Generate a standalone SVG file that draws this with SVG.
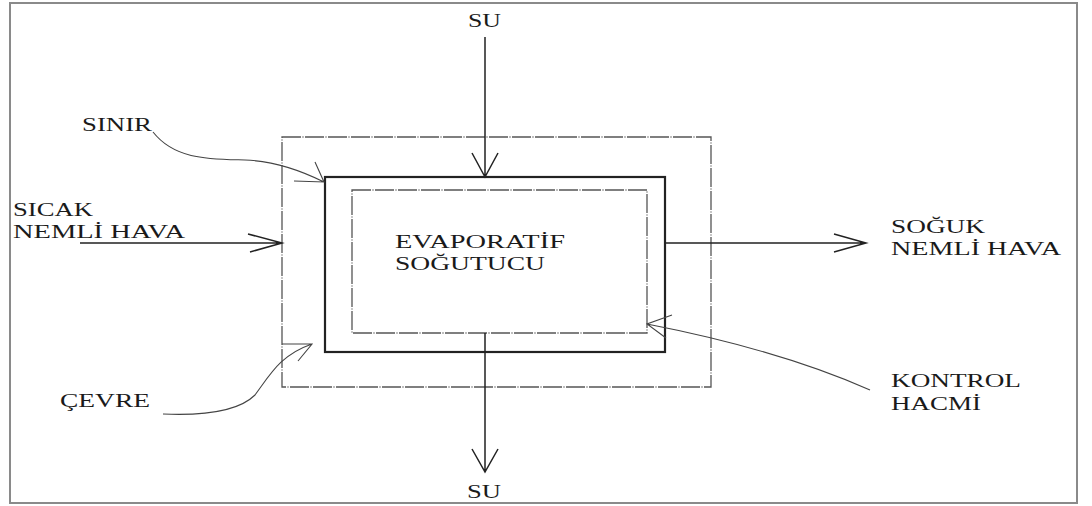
<svg xmlns="http://www.w3.org/2000/svg" width="1092" height="506" viewBox="0 0 1092 506">
<style>
text{font-family:"Liberation Serif","Times New Roman",serif;font-size:19px;fill:#1a1a1a}
.frame{fill:none;stroke:#8a8a8a;stroke-width:2}
.dash{fill:none;stroke:#555;stroke-width:1.3;stroke-dasharray:19 1.5 1 1.5}
.solid{fill:none;stroke:#222;stroke-width:2.2}
.flow{fill:none;stroke:#222;stroke-width:1.5}
.lead{fill:none;stroke:#444;stroke-width:1.1}
</style>
<rect class="frame" x="10" y="3" width="1067" height="500"/>
<g id="cevre-sinir">
<rect class="dash" x="282" y="137" width="429" height="250"/>
</g>
<g id="evaporatif-sogutucu">
<rect class="solid" x="325" y="177" width="340" height="175"/>
<text x="395" y="248" textLength="170" lengthAdjust="spacingAndGlyphs">EVAPORATİF</text>
<text x="395" y="270" textLength="150" lengthAdjust="spacingAndGlyphs">SOĞUTUCU</text>
</g>
<g id="kontrol-hacmi-kutu">
<rect class="dash" x="352" y="190" width="295" height="143"/>
</g>
<g id="labels">
<text id="su-top" x="468" y="27" textLength="33" lengthAdjust="spacingAndGlyphs">SU</text>
<text id="su-bottom" x="467" y="498" textLength="34" lengthAdjust="spacingAndGlyphs">SU</text>
<text id="sinir" x="82" y="131" textLength="70" lengthAdjust="spacingAndGlyphs">SINIR</text>
<g id="sicak"><text x="13" y="216" textLength="80" lengthAdjust="spacingAndGlyphs">SICAK</text>
<text x="13" y="238" textLength="172" lengthAdjust="spacingAndGlyphs">NEMLİ HAVA</text></g>
<g id="soguk"><text x="891" y="233" textLength="94" lengthAdjust="spacingAndGlyphs">SOĞUK</text>
<text x="891" y="255" textLength="170" lengthAdjust="spacingAndGlyphs">NEMLİ HAVA</text></g>
<g id="kontrol"><text x="891" y="387" textLength="130" lengthAdjust="spacingAndGlyphs">KONTROL</text>
<text x="891" y="410" textLength="90" lengthAdjust="spacingAndGlyphs">HACMİ</text></g>
<text id="cevre" x="60" y="407" textLength="90" lengthAdjust="spacingAndGlyphs">ÇEVRE</text>
</g>
<g id="connectors">
<path class="flow" d="M485,37 V177 M472,153 L485,177 L498,153"/>
<path class="flow" d="M485,333 V472 M472,449 L485,472 L498,449"/>
<path class="flow" d="M80,243 H282 M248,234 L282,243 L250,252"/>
<path class="flow" d="M665,243 H866 M834,234 L866,243 L834,252"/>
<path class="lead" d="M153,132 C175,160 210,159 245,160 C275,161 300,170 324,182 M315,162 L324,182 L294,181"/>
<path class="lead" d="M163,414 C210,416 240,410 255,395 C270,375 280,355 312,344 M282,344 L312,344 L298,361"/>
<path class="lead" d="M870,390 Q780,350 647,324 M672,315 L647,324 L666,338"/>
</g>
</svg>
